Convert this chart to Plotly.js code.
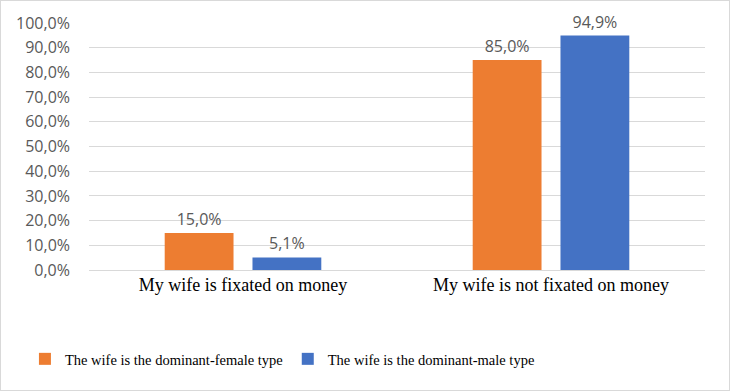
<!DOCTYPE html>
<html><head><meta charset="utf-8">
<script src="https://cdn.plot.ly/plotly-3.0.1.min.js"></script>
<style>
html,body{margin:0;padding:0;background:#fff;}
#c{width:730px;height:391px;box-sizing:border-box;border:1px solid #d9d9d9;}
</style></head><body>
<div id="c"></div>
<script>
const categories = ["My wife is fixated on money", "My wife is not fixated on money"];
const femaleType = [0.150, 0.850];
const maleType = [0.051, 0.949];
const seriesNames = ["The wife is the dominant-female type", "The wife is the dominant-male type"];

const common = {
  type: 'bar', x: categories, textposition: 'outside', cliponaxis: false,
  texttemplate: '%{y:.1%}', textfont: {family: 'Open Sans, sans-serif', size: 16, color: '#595959'},
  hoverinfo: 'none'
};
const data = [
  Object.assign({}, common, {y: femaleType, name: seriesNames[0], marker: {color: '#ED7D31'}}),
  Object.assign({}, common, {y: maleType, name: seriesNames[1], marker: {color: '#4472C4'}})
];
const layout = {
  width: 728, height: 389,
  margin: {l: 88, r: 24, t: 22, b: 120},
  paper_bgcolor: '#fff', plot_bgcolor: '#fff',
  separators: ',.',
  bargap: 0.43, bargroupgap: 0.216,
  showlegend: true,
  legend: {orientation: 'h', x: -0.104, xanchor: 'left', y: -0.36, yanchor: 'middle',
    font: {family: 'Liberation Serif, Times New Roman, serif', size: 14.5, color: '#000'},
    itemwidth: 30, tracegroupgap: 0},
  xaxis: {tickfont: {family: 'Liberation Serif, Times New Roman, serif', size: 18, color: '#000'},
    showline: false, ticks: '', showgrid: false, ticklabelstandoff: 2},
  yaxis: {range: [0, 1], dtick: 0.1, tickformat: '.1%', showgrid: true, gridcolor: '#d9d9d9',
    zeroline: true, zerolinecolor: '#d9d9d9', showline: false, ticks: '', ticklabelstandoff: 18,
    tickfont: {family: 'Open Sans, sans-serif', size: 16, color: '#595959'}}
};
Plotly.newPlot('c', data, layout, {displayModeBar: false, staticPlot: true});
</script>
</body></html>
